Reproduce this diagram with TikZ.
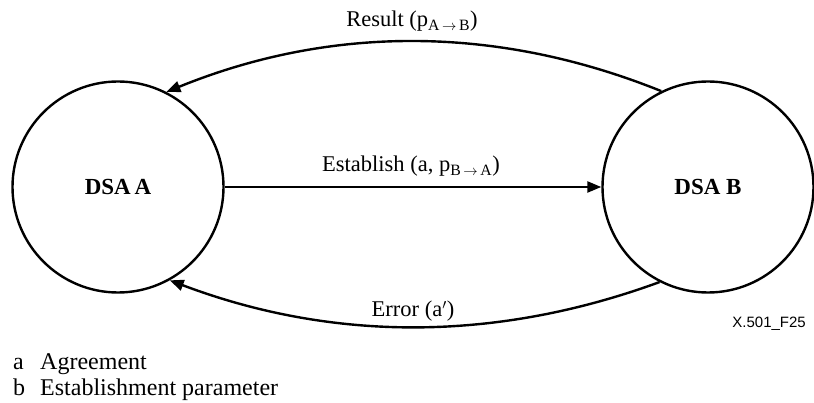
\documentclass[tikz,border=0pt]{standalone}
\usepackage{fontspec}
\setmainfont{Liberation Serif}
\newfontfamily\arialf{Liberation Sans}
\usetikzlibrary{arrows.meta}
\tikzset{
  dsa/.style={circle, draw, line width=2.4pt, minimum size=211pt, inner sep=0pt,
    font=\fontsize{23}{27}\selectfont\bfseries},
  arr/.style={line width=2.4pt, -{Triangle[length=14pt,width=11pt]}},
  lbl/.style={anchor=base, inner sep=0pt, font=\fontsize{22.5}{27}\selectfont},
  legend/.style={anchor=base west, inner sep=0pt, font=\fontsize{24}{28}\selectfont},
  fig/.style={anchor=base east, inner sep=0pt, font=\arialf\fontsize{15}{18}\selectfont}
}
\begin{document}
\begin{tikzpicture}[x=1pt,y=-1pt]
\useasboundingbox[fill=white] (0,0) rectangle (814,403);
\node[dsa] (A) at (118,187) {DSA\,A};
\node[dsa] (B) at (708,187) {DSA B};
\draw[arr] (A) -- (B);
\draw[arr] (B.116) .. controls (497,25) and (331,25) .. (A.63);
\draw[arr] (B.-117) .. controls (496,342) and (333,342) .. (A.-61);
\node[lbl] (res) at (412,27) {Result (p\textsubscript{A\,$\rightarrow$\,B})};
\node[lbl] (est) at (411,172) {Establish (a, p\textsubscript{B\,$\rightarrow$\,A})};
\node[lbl] (err) at (413,317) {Error (a$'$)};
\node[fig] (fid) at (806,327) {X.501\_F25};
\node[legend] (la) at (13,369) {a};
\node[legend] (lat) at (40,369) {Agreement};
\node[legend] (lb) at (13,395) {b};
\node[legend] (lbt) at (40,395) {Establishment parameter};
\end{tikzpicture}
\end{document}
